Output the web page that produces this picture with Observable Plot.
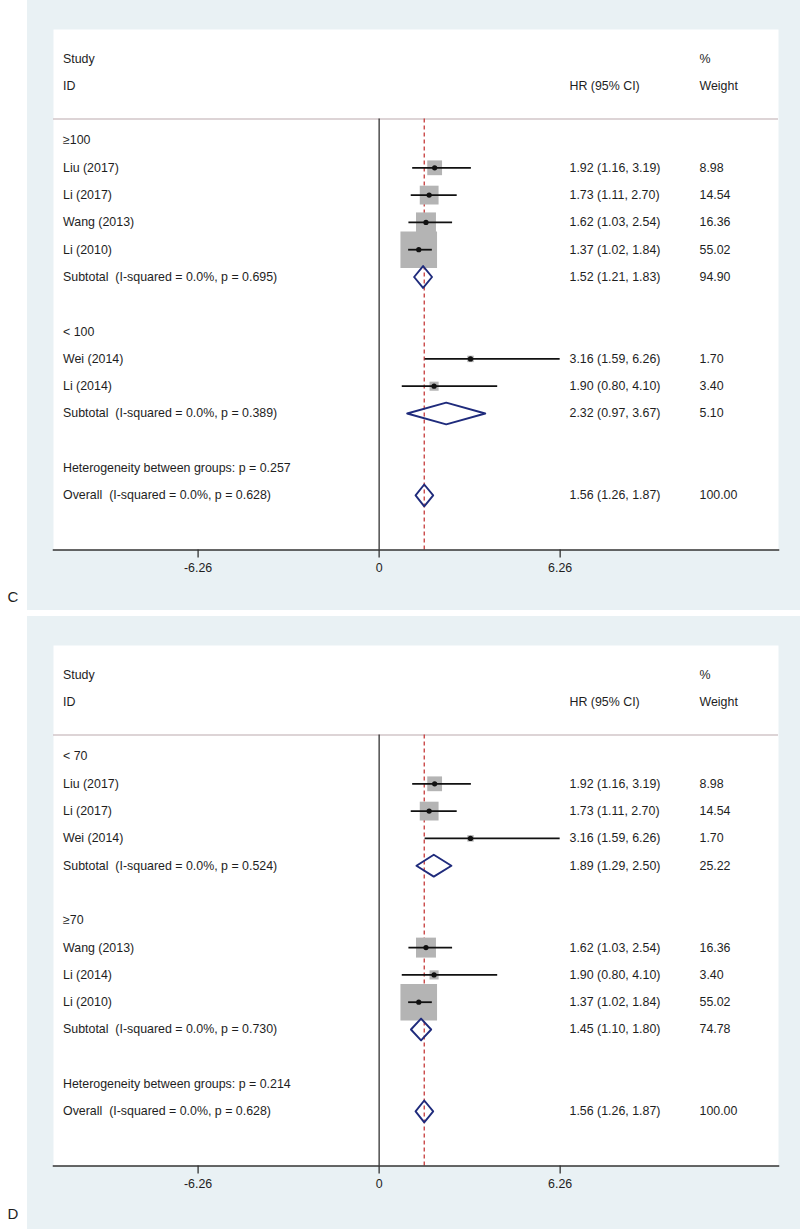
<!DOCTYPE html>
<html><head><meta charset="utf-8">
<script src="https://cdn.jsdelivr.net/npm/d3@7"></script>
<script src="https://cdn.jsdelivr.net/npm/@observablehq/plot@0.6"></script>
<style>
body{margin:0;background:#fff;font-family:"Liberation Sans",Arial,sans-serif;}
.panel{position:relative;width:800px;}
.bg{position:absolute;left:27px;top:0;width:773px;background:#e9f1f4;}
.panel svg{position:absolute;left:0;top:0;}
</style></head><body>
<div id="c" class="panel" style="height:610px"><div class="bg" style="height:610px"></div></div>
<div style="height:6px"></div>
<div id="d" class="panel" style="height:613px"><div class="bg" style="height:613px"></div></div>
<script>
// ---------- Panel C data ----------
const cLabels = ["≥100","Liu (2017)","Li (2017)","Wang (2013)","Li (2010)","Subtotal  (I-squared = 0.0%, p = 0.695)","","< 100","Wei (2014)","Li (2014)","Subtotal  (I-squared = 0.0%, p = 0.389)","","Heterogeneity between groups: p = 0.257","Overall  (I-squared = 0.0%, p = 0.628)"];
const cKinds  = ["group","study","study","study","study","sub","blank","group","study","study","sub","blank","het","overall"];
const cHR     = [null,1.92,1.73,1.62,1.37,1.52,null,null,3.16,1.90,2.32,null,null,1.56];
const cLo     = [null,1.16,1.11,1.03,1.02,1.21,null,null,1.59,0.80,0.97,null,null,1.26];
const cHi     = [null,3.19,2.70,2.54,1.84,1.83,null,null,6.26,4.10,3.67,null,null,1.87];
const cWeight = [null,8.98,14.54,16.36,55.02,94.90,null,null,1.70,3.40,5.10,null,null,100.00];

// ---------- Panel D data ----------
const dLabels = ["< 70","Liu (2017)","Li (2017)","Wei (2014)","Subtotal  (I-squared = 0.0%, p = 0.524)","","≥70","Wang (2013)","Li (2014)","Li (2010)","Subtotal  (I-squared = 0.0%, p = 0.730)","","Heterogeneity between groups: p = 0.214","Overall  (I-squared = 0.0%, p = 0.628)"];
const dKinds  = ["group","study","study","study","sub","blank","group","study","study","study","sub","blank","het","overall"];
const dHR     = [null,1.92,1.73,3.16,1.89,null,null,1.62,1.90,1.37,1.45,null,null,1.56];
const dLo     = [null,1.16,1.11,1.59,1.29,null,null,1.03,0.80,1.02,1.10,null,null,1.26];
const dHi     = [null,3.19,2.70,6.26,2.50,null,null,2.54,4.10,1.84,1.80,null,null,1.87];
const dWeight = [null,8.98,14.54,1.70,25.22,null,null,16.36,3.40,55.02,74.78,null,null,100.00];

// ---------- Axis ----------
const axisTicks = [-6.26, 0, 6.26];
const axisTickLabels = ["-6.26", "0", "6.26"];
const headerLeft = ["Study", "ID"];
const headerHR = "HR (95% CI)";
const headerWeight = ["%", "Weight"];

function build(el, letter, labels, kinds, hr, lo, hi, wt, height, letterDy) {
  const rows = labels.map((label, i) => ({row: i, label, kind: kinds[i], hr: hr[i], lo: lo[i], hi: hi[i], wt: wt[i]}));
  const studies = rows.filter(d => d.kind === "study");
  const pooled = rows.filter(d => d.kind === "sub" || d.kind === "overall");
  const withVals = rows.filter(d => d.hr != null);
  const overall = rows.find(d => d.kind === "overall");
  const H = 0.4;
  const diamonds = pooled.flatMap((d, k) => [
    {x: d.lo, y: d.row, id: k}, {x: d.hr, y: d.row - H, id: k},
    {x: d.hi, y: d.row, id: k}, {x: d.hr, y: d.row + H, id: k},
    {x: d.lo, y: d.row, id: k}
  ]);
  const topRow = -4.066, bottomRow = 15, lineRow = -0.785;
  const ink = "#1e1e1e";
  const left = 53, hrCol = 569 - left, wCol = 699 - left, labCol = 9.5;

  const chart = Plot.plot({
    width: 800, height,
    marginLeft: left, marginRight: 22, marginTop: 29, marginBottom: height - 549.5,
    x: {domain: [-11.26, 13.81]},
    y: {domain: [topRow, bottomRow], reverse: true, axis: null},
    r: {type: "sqrt", domain: [0, 55.02], range: [0, 20.65]},
    style: {fontFamily: "Liberation Sans, Arial, sans-serif", fontSize: "12.4px", color: ink, background: "transparent", overflow: "visible"},
    marks: [
      Plot.frame({fill: "white", stroke: null}),
      Plot.ruleY([lineRow], {stroke: "#d2c6c8", strokeWidth: 1.6}),
      Plot.ruleX([0], {y1: lineRow, y2: bottomRow, stroke: "#222", strokeWidth: 1.2}),
      Plot.ruleX([overall.hr], {y1: lineRow, y2: bottomRow, stroke: "#c63a3a", strokeWidth: 1.3, strokeDasharray: "4,3"}),
      Plot.dot(studies, {x: "hr", y: "row", r: "wt", symbol: "square", fill: "#b4b4b4", stroke: null}),
      Plot.ruleY(studies, {y: "row", x1: "lo", x2: "hi", stroke: "#111", strokeWidth: 1.8}),
      Plot.dot(studies, {x: "hr", y: "row", r: 2.6, fill: "#111", stroke: null}),
      Plot.line(diamonds, {x: "x", y: "y", z: "id", stroke: "#1f2b7c", strokeWidth: 1.9, curve: "linear"}),
      Plot.text(rows.filter(d => d.label), {y: "row", text: "label", frameAnchor: "left", textAnchor: "start", dx: labCol, fill: ink}),
      Plot.text(withVals, {y: "row", text: d => `${d.hr.toFixed(2)} (${d.lo.toFixed(2)}, ${d.hi.toFixed(2)})`, frameAnchor: "left", textAnchor: "start", dx: hrCol, fill: ink}),
      Plot.text(withVals, {y: "row", text: d => d.wt.toFixed(2), frameAnchor: "left", textAnchor: "start", dx: wCol, fill: ink}),
      Plot.text(headerLeft, {y: (d, i) => -3 + i, text: d => d, frameAnchor: "left", textAnchor: "start", dx: labCol, fill: ink}),
      Plot.text([headerHR], {y: [-2], text: d => d, frameAnchor: "left", textAnchor: "start", dx: hrCol, fill: ink}),
      Plot.text(headerWeight, {y: (d, i) => -3 + i, text: d => d, frameAnchor: "left", textAnchor: "start", dx: wCol, fill: ink}),
      Plot.frame({anchor: "bottom", stroke: "#333", strokeWidth: 1.5}),
      Plot.axisX({ticks: axisTicks, tickFormat: d => axisTickLabels[axisTicks.indexOf(d)], tickSize: 8, tickPadding: 5, label: null, stroke: "#333", strokeWidth: 1.3, fill: ink}),
      Plot.text([letter], {frameAnchor: "bottom-left", textAnchor: "start", dx: 7 - left, dy: letterDy, fontSize: 15, fill: ink})
    ]
  });
  el.appendChild(chart);
}

build(document.getElementById("c"), "C", cLabels, cKinds, cHR, cLo, cHi, cWeight, 610, 601 - 549.5);
build(document.getElementById("d"), "D", dLabels, dKinds, dHR, dLo, dHi, dWeight, 613, 602 - 549.5);
</script>
</body></html>
